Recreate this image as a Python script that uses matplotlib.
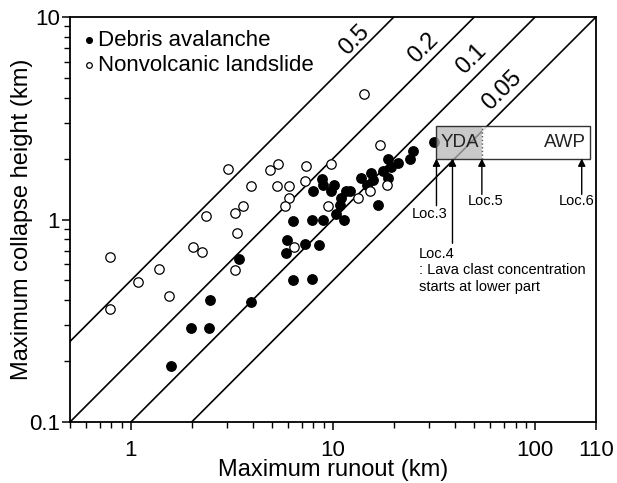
import numpy as np
import matplotlib.pyplot as plt
from matplotlib.patches import Rectangle
from matplotlib.ticker import FixedLocator, LogLocator, NullFormatter

plt.rcParams['font.family'] = ['Liberation Sans', 'DejaVu Sans']

# Debris avalanche (filled) : runout (km), collapse height (km)
debris_x = [1.58, 1.98, 2.44, 2.47, 3.42, 3.91, 5.84, 5.91, 6.37, 6.37,
            7.28, 7.87, 7.85, 8.55, 8.89, 7.92, 8.79, 8.9, 9.78, 10.1,
            10.35, 10.8, 11.0, 11.3, 11.6, 12.2, 13.7, 14.7, 15.5, 15.8,
            16.7, 17.7, 18.7, 18.8, 19.4, 21.0, 24.0, 24.9, 31.7]
debris_y = [0.19, 0.29, 0.29, 0.40, 0.64, 0.39, 0.68, 0.79, 0.50, 0.98,
            0.76, 0.51, 0.99, 0.75, 0.99, 1.38, 1.58, 1.48, 1.38, 1.48,
            1.07, 1.18, 1.27, 0.99, 1.38, 1.38, 1.60, 1.48, 1.69, 1.57,
            1.18, 1.74, 2.0, 1.60, 1.81, 1.90, 2.0, 2.19, 2.41]

# Nonvolcanic landslide (open)
land_x = [0.79, 0.79, 1.09, 1.38, 1.55, 2.03, 2.25, 2.35, 3.01, 3.29,
          3.36, 3.29, 3.59, 3.94, 4.86, 5.34, 5.28, 6.06, 6.06, 5.79,
          6.42, 7.34, 7.26, 9.75, 9.41, 13.3, 15.3, 18.5, 17.0, 14.3]
land_y = [0.65, 0.36, 0.49, 0.57, 0.42, 0.73, 0.69, 1.04, 1.77, 1.08,
          0.86, 0.56, 1.17, 1.47, 1.75, 1.87, 1.46, 1.46, 1.27, 1.17,
          0.73, 1.84, 1.55, 1.87, 1.17, 1.27, 1.38, 1.48, 2.34, 4.17]

# H/L ratio lines
ratios = [0.5, 0.2, 0.1, 0.05]
ratio_labels = ['0.5', '0.2', '0.1', '0.05']
ratio_label_pos = [(12.7, 7.67), (27.9, 7.05), (48.5, 6.18), (68.6, 4.35)]

# deposit ranges
yda_range = (32.5, 54.5)
awp_range = (54.5, 186)
box_y = (2.0, 2.9)

# locations: (name, x, arrow tail y)
locs = [('Loc.3', 32.5, 1.17), ('Loc.4', 39.0, 0.763),
        ('Loc.5', 54.5, 1.33), ('Loc.6', 170, 1.33)]

fig = plt.figure(figsize=(6.17, 4.83), dpi=100)
ax = fig.add_axes([70 / 617, 1 - 422 / 483, 526 / 617, 405 / 483])
ax.set_xscale('log')
ax.set_yscale('log')
ax.set_xlim(0.5, 200)
ax.set_ylim(0.1, 10)

xl = np.array([0.5, 200])
for r, lab, pos in zip(ratios, ratio_labels, ratio_label_pos):
    ax.plot(xl, r * xl, color='k', lw=1.2, zorder=1)
    ax.text(pos[0], pos[1], lab, rotation=45, fontsize=17,
            ha='center', va='center')

ax.scatter(debris_x, debris_y, s=46, color='k', zorder=3,
           label='Debris avalanche')
ax.scatter(land_x, land_y, s=46, facecolor='white', edgecolor='k',
           linewidth=0.9, zorder=3, label='Nonvolcanic landslide')

# YDA / AWP box
ax.add_patch(Rectangle((yda_range[0], box_y[0]), yda_range[1] - yda_range[0],
                       box_y[1] - box_y[0], facecolor='#b8b8b8', alpha=0.75,
                       edgecolor='none', zorder=4))
ax.add_patch(Rectangle((awp_range[0], box_y[0]), awp_range[1] - awp_range[0],
                       box_y[1] - box_y[0], facecolor='white', alpha=0.85,
                       edgecolor='none', zorder=4))
ax.add_patch(Rectangle((yda_range[0], box_y[0]), awp_range[1] - yda_range[0],
                       box_y[1] - box_y[0], facecolor='none',
                       edgecolor='#333333', lw=1.0, zorder=5))
ax.plot([yda_range[1]] * 2, box_y, ls=':', color='#555555', lw=1.0, zorder=5)
ax.text(34.2, 2.39, 'YDA', fontsize=13.5, ha='left', va='center', zorder=6,
        color='#222222')
ax.text(179, 2.39, 'AWP', fontsize=13.5, ha='right', va='center', zorder=6,
        color='#222222')

for name, x, ytail in locs:
    ax.annotate('', xy=(x, box_y[0]), xytext=(x, ytail),
                arrowprops=dict(arrowstyle='-|>', color='k', lw=1.0,
                                mutation_scale=11, shrinkA=0, shrinkB=0),
                zorder=6)

ax.text(29.9, 1.07, 'Loc.3', fontsize=10.5, ha='center', va='center')
ax.text(57.1, 1.24, 'Loc.5', fontsize=10.5, ha='center', va='center')
ax.text(160, 1.24, 'Loc.6', fontsize=10.5, ha='center', va='center')
ax.text(26.5, 0.56, 'Loc.4\n: Lava clast concentration\nstarts at lower part',
        fontsize=10.5, ha='left', va='center', linespacing=1.25)

# ticks
ax.xaxis.set_major_locator(FixedLocator([1, 10, 100, 200]))
ax.set_xticklabels(['1', '10', '100', '110'])
ax.xaxis.set_minor_locator(LogLocator(base=10, subs=np.arange(2, 10)))
ax.xaxis.set_minor_formatter(NullFormatter())
ax.yaxis.set_major_locator(FixedLocator([0.1, 1, 10]))
ax.set_yticklabels(['0.1', '1', '10'])
ax.yaxis.set_minor_locator(LogLocator(base=10, subs=np.arange(2, 10)))
ax.yaxis.set_minor_formatter(NullFormatter())
ax.tick_params(which='major', direction='out', length=5.8, width=1.1,
               labelsize=16)
ax.tick_params(axis='x', which='major', pad=7)
ax.tick_params(axis='y', which='major', pad=1.5)
ax.tick_params(which='minor', direction='out', length=4, width=1.0)
for sp in ax.spines.values():
    sp.set_linewidth(1.3)

ax.set_xlabel('Maximum runout (km)', fontsize=17, labelpad=-1)
ax.set_ylabel('Maximum collapse height (km)', fontsize=17, labelpad=-3)

ax.legend(loc='upper left', frameon=False, fontsize=16, markerscale=0.6,
          handlelength=0.5, handletextpad=0.15, labelspacing=0.15,
          borderaxespad=0.2, borderpad=0.4)

fig.savefig('out.png', dpi=100)
